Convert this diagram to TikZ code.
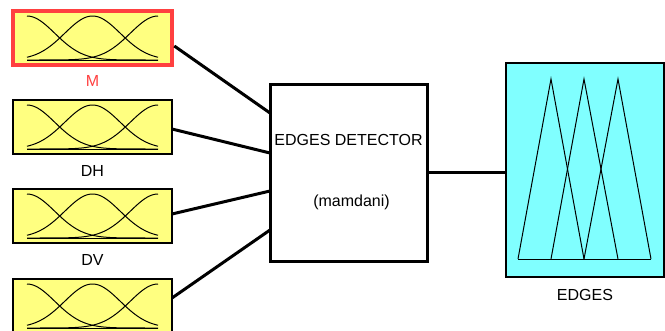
\documentclass[tikz,border=0pt]{standalone}
\usepackage{fontspec}
\setmainfont{Liberation Sans}
\usetikzlibrary{calc}
\definecolor{inyellow}{HTML}{FFFF80}
\definecolor{outcyan}{HTML}{80FFFF}
\definecolor{selred}{HTML}{FF4040}
\tikzset{
  inbox/.style={draw=black, line width=1.3pt, fill=inyellow, minimum width=159pt, minimum height=54pt, inner sep=0pt, outer sep=0pt},
  selbox/.style={inbox, draw=selred, line width=4.5pt},
  sysbox/.style={draw=black, line width=3pt, fill=white, minimum width=157pt, minimum height=177pt, inner sep=0pt, outer sep=0pt},
  outbox/.style={draw=black, line width=1.5pt, fill=outcyan, minimum width=158pt, minimum height=214pt, inner sep=0pt, outer sep=0pt},
  conn/.style={draw=black, line width=3pt},
  lbl/.style={font=\fontsize{16pt}{19pt}\selectfont, inner sep=0pt, anchor=north},
  txt/.style={font=\fontsize{16pt}{19pt}\selectfont, inner sep=0pt},
  mfcurve/.style={draw=black, line width=1pt},
  mf/.pic={
    \draw[mfcurve] (-65.5,22) -- (65.5,22);
    \draw[mfcurve, smooth, samples=60, domain=-65.5:65.5] plot (\x, {22 - 44*exp(-0.5*((\x+65.5)/27.8)^2)});
    \draw[mfcurve, smooth, samples=60, domain=-65.5:65.5] plot (\x, {22 - 44*exp(-0.5*((\x)/27.8)^2)});
    \draw[mfcurve, smooth, samples=60, domain=-65.5:65.5] plot (\x, {22 - 44*exp(-0.5*((\x-65.5)/27.8)^2)});
  }
}
\begin{document}
\begin{tikzpicture}[x=1pt, y=-1pt]
\useasboundingbox (0,0) rectangle (665,330);
% input boxes
\node[selbox] (M) at (92.5,38) {};
\node[inbox] (DH) at (92.5,127) {};
\node[inbox] (DV) at (92.5,216) {};
\node[inbox] (X4) at (92.5,306) {};
\pic at (M) {mf};
\pic at (DH) {mf};
\pic at (DV) {mf};
\pic at (X4) {mf};
% labels
\node[lbl, text=selred] (lM) at ([yshift=-10.5pt]M.south) {M};
\node[lbl] (lDH) at ([yshift=-11.5pt]DH.south) {DH};
\node[lbl] (lDV) at ([yshift=-11.5pt]DV.south) {DV};
% system box
\node[sysbox] (C) at (348.5,172.5) {};
\node[txt] (t1) at ($(C.center)+(0,-32.5)$) {EDGES DETECTOR};
\node[txt] (t2) at ($(C.center)+(3,29.5)$) {(mamdani)};
% output box
\node[outbox] (O) at (585,170) {};
\node[lbl] (lO) at ([yshift=-12pt]O.south) {EDGES};
\draw[mfcurve] ($(O.center)+(-67,89)$) -- ($(O.center)+(66,89)$);
\draw[mfcurve] ($(O.center)+(-67,89)$) -- ($(O.center)+(-34,-91)$) -- ($(O.center)+(-1,89)$);
\draw[mfcurve] ($(O.center)+(-34,89)$) -- ($(O.center)+(-1,-91)$) -- ($(O.center)+(33,89)$);
\draw[mfcurve] ($(O.center)+(-1,89)$) -- ($(O.center)+(33,-91)$) -- ($(O.center)+(66,89)$);
% connectors
\draw[conn] ($(M.east)+(2.3,8)$) -- ($(C.west)+(0,-59.5)$);
\draw[conn] ($(DH.east)+(0,2)$) -- ($(C.west)+(0,-19.5)$);
\draw[conn] ($(DV.east)+(0,-2)$) -- ($(C.west)+(0,18.5)$);
\draw[conn] ($(X4.east)+(0,-8)$) -- ($(C.west)+(0,57.5)$);
\draw[conn] (C.east) -- (O.west |- C.east);
\end{tikzpicture}
\end{document}
